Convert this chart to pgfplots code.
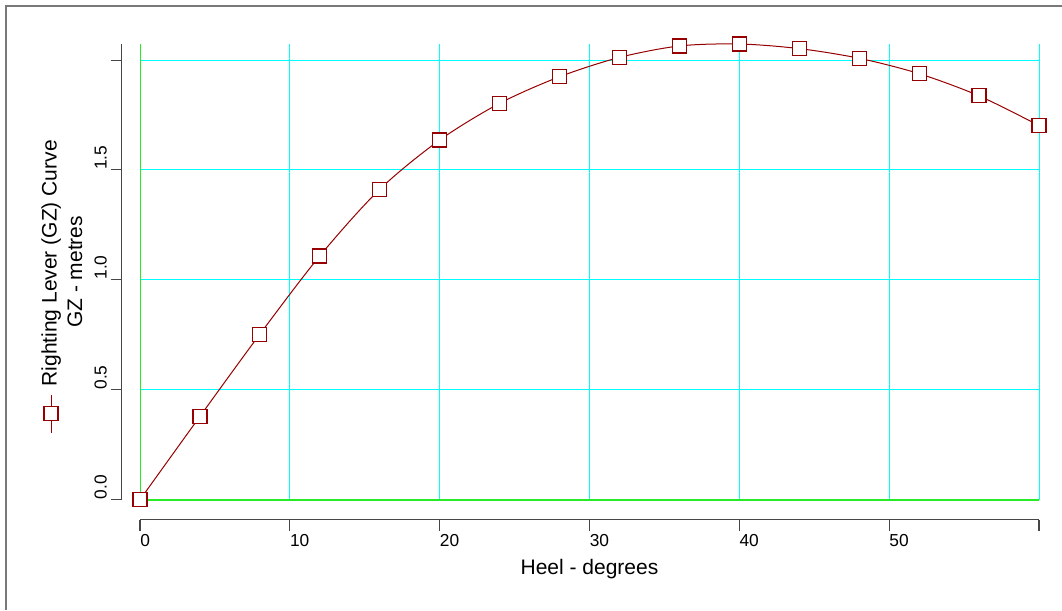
\documentclass[border=0pt]{standalone}
\usepackage{fontspec}
\setmainfont{Liberation Sans}
\usepackage{pgfplots}
\pgfplotsset{compat=1.18}
\definecolor{gzred}{RGB}{150,0,0}
\definecolor{gridcyan}{RGB}{0,255,255}
\definecolor{zerogreen}{RGB}{40,235,40}
\definecolor{axgray}{RGB}{70,70,70}
\definecolor{framegray}{RGB}{120,120,120}
\pgfplotsset{
  myticks/.style={
    tick align=outside, major tick length=8.25pt,
    major tick style={draw=axgray, line width=0.8pt},
    ticklabel style={font=\fontsize{13}{15}\selectfont, text=black},
    /pgf/number format/assume math mode=true,
    grid=none, scale only axis,
  }
}
\begin{document}
\begin{tikzpicture}
\useasboundingbox (0,0) rectangle (796.5pt,457.5pt);
\draw[framegray, line width=1.5pt] (4.3pt,0pt) -- (4.3pt,453.2pt) -- (796.5pt,453.2pt);
% detached x axis
\begin{axis}[myticks,
  at={(105pt,67.875pt)}, anchor=south west,
  width=674.25pt, height=2pt,
  xmin=0, xmax=60, ymin=0, ymax=1,
  axis x line*=bottom, axis y line=none,
  axis line style={-, draw=axgray, line width=0.8pt},
  xtick={0,10,20,30,40,50,60},
  xticklabels={0,10,20,30,40,50,{}},
  xticklabel style={anchor=north west, inner sep=0pt, yshift=-2.6pt},
]
\end{axis}
% detached y axis
\begin{axis}[myticks,
  at={(91.275pt,82.725pt)}, anchor=south west,
  width=2pt, height=341.775pt,
  xmin=0, xmax=1, ymin=0, ymax=2.073,
  axis y line*=left, axis x line=none,
  axis line style={-, draw=axgray, line width=0.8pt},
  ytick={0,0.5,1,1.5,2},
  yticklabels={0.0,0.5,1.0,1.5,{}},
  yticklabel style={xshift=-2.8pt, rotate=90, anchor=south west, inner sep=0pt},
]
\end{axis}
% plot area
\begin{axis}[
  at={(105pt,82.725pt)}, anchor=south west,
  scale only axis, width=674.25pt, height=341.775pt,
  xmin=0, xmax=60, ymin=0, ymax=2.073,
  hide axis, clip=false,
]
% grid
\addplot[gridcyan, line width=0.75pt, forget plot] coordinates {(10,0) (10,2.073)};
\addplot[gridcyan, line width=0.75pt, forget plot] coordinates {(20,0) (20,2.073)};
\addplot[gridcyan, line width=0.75pt, forget plot] coordinates {(30,0) (30,2.073)};
\addplot[gridcyan, line width=0.75pt, forget plot] coordinates {(40,0) (40,2.073)};
\addplot[gridcyan, line width=0.75pt, forget plot] coordinates {(50,0) (50,2.073)};
\addplot[gridcyan, line width=0.75pt, forget plot] coordinates {(60,0) (60,2.073)};
\addplot[gridcyan, line width=0.75pt, forget plot] coordinates {(0,0.5) (60,0.5)};
\addplot[gridcyan, line width=0.75pt, forget plot] coordinates {(0,1) (60,1)};
\addplot[gridcyan, line width=0.75pt, forget plot] coordinates {(0,1.5) (60,1.5)};
\addplot[gridcyan, line width=0.75pt, forget plot] coordinates {(0,2) (60,2)};
% zero lines
\addplot[zerogreen, line width=0.75pt, forget plot] coordinates {(0,0) (0,2.073)};
\addplot[zerogreen, line width=1.6pt, forget plot] coordinates {(0,0) (60,0)};
% GZ curve
\addplot[gzred, line width=0.75pt, smooth, mark=square*, mark size=5.25pt,
  mark options={fill=white, draw=gzred, line width=0.9pt, solid}, forget plot]
  coordinates {
  (0,0) (4,0.379) (8,0.753) (12,1.109) (16,1.412) (20,1.636) (24,1.803)
  (28,1.924) (32,2.012) (36,2.064) (40,2.073) (44,2.052) (48,2.008)
  (52,1.938) (56,1.837) (60,1.702)
  };
% legend key (rotated, left of the axis)
\addplot[gzred, line width=0.75pt, forget plot] coordinates {(-5.94,0.304) (-5.94,0.477)};
\addplot[only marks, mark=square*, mark size=5.25pt,
  mark options={fill=white, draw=gzred, line width=0.9pt}, forget plot]
  coordinates {(-5.94,0.391)};
\node[rotate=90, anchor=west, inner sep=0pt, font=\fontsize{15.75}{18}\selectfont]
  at (axis cs:-5.93,0.514) {Righting Lever (GZ) Curve};
% axis titles
\node[anchor=center, font=\fontsize{15.75}{18}\selectfont]
  at (axis description cs:0.5,-0.152) {Heel - degrees};
\node[rotate=90, anchor=center, font=\fontsize{15.75}{18}\selectfont]
  at (axis description cs:-0.0723,0.5) {GZ - metres};
\end{axis}
\end{tikzpicture}
\end{document}
